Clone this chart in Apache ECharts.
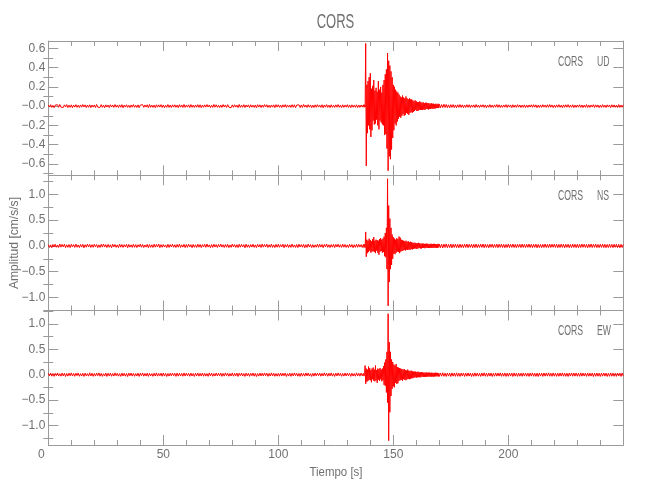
<!DOCTYPE html>
<html><head><meta charset="utf-8">
<script src="https://cdn.jsdelivr.net/npm/echarts@6/dist/echarts.min.js"></script>
<style>html,body{margin:0;padding:0;background:#fff}#c{width:650px;height:500px}</style>
</head><body><div id="c"></div>
<script>
const stationName = 'CORS';
const components = ['UD', 'NS', 'EW'];
const xTitle = 'Tiempo [s]';
const yTitle = 'Amplitud [cm/s/s]';
// sampling grid: [start, end, step] in seconds
const timeSegments = [[0, 137, 0.5], [137.25, 170, 0.25], [170.5, 250, 0.5]];
const xTicks = [0, 50, 100, 150, 200];
const xTickLabels = ['0', '50', '100', '150', '200'];
const udTicks = [-0.6, -0.4, -0.2, 0, 0.2, 0.4, 0.6];
const udTickLabels = ['−0.6', '−0.4', '−0.2', '−0.0', '0.2', '0.4', '0.6'];
const udMinorTicks = [-0.7, -0.5, -0.3, -0.1, 0.1, 0.3, 0.5];
const hTicks = [-1, -0.5, 0, 0.5, 1];
const hTickLabels = ['−1.0', '−0.5', '0.0', '0.5', '1.0'];
const hMinorTicks = [-1.25, -0.75, -0.25, 0.25, 0.75, 1.25];
const udRange = [-0.717, 0.675];
const nsRange = [-1.251, 1.367];
const ewRange = [-1.385, 1.264];

// accelerations in thousandths of cm/s/s
const udMilli = [
 12,-10,15,-13,8,-16,11,-9,14,-12,17,-11,9,-14,13,-8,16,-15,10,-12,13,-17,11,-10,15,
 -13,9,-14,12,-11,16,-9,13,-15,10,-12,14,-16,11,-10,12,-14,17,-11,9,-13,15,-12,10,-16,
 13,-10,11,-15,14,-9,12,-13,16,-11,10,-14,13,-12,15,-17,11,-10,14,-13,9,-15,12,-11,16,
 -12,10,-14,13,-16,11,-9,15,-13,12,-10,14,-15,17,-12,10,-13,11,-16,14,-11,13,-10,15,-14,
 12,-17,9,-12,16,-13,11,-15,13,-10,14,-12,10,-16,15,-11,12,-14,17,-13,11,-10,13,-15,16,
 -12,10,-14,12,-11,15,-13,14,-16,11,-12,13,-10,16,-9,12,-15,10,-13,17,-11,14,-12,9,-15,
 11,-13,16,-10,12,-14,15,-11,9,-16,13,-12,14,-10,11,-15,17,-13,10,-12,15,-14,12,-9,13,
 -16,14,-11,10,-13,12,-17,15,-10,13,-14,11,-12,16,-9,14,-13,10,-15,12,-11,13,-16,15,-10,
 14,-12,11,-15,13,-10,16,-14,12,-11,10,-13,15,-12,14,-16,11,-9,13,-15,12,-14,17,-10,11,
 -13,15,-11,12,-16,10,-14,13,-12,15,-10,11,-13,14,-17,12,-11,16,-13,10,-15,14,-12,9,-14,
 13,-11,16,-12,10,-15,14,-13,11,-10,15,-14,12,-16,13,-11,10,-12,14,-15,11,-13,12,-10,14,
 -12,14,-10,650,-620,220,-280,260,-200,300,
 -240,340,-320,180,-250,210,-150,270,-190,160,
 -180,190,-140,150,-200,260,-240,170,-150,200,
 -170,140,-190,220,-200,270,-300,330,-290,380,
 -440,550,-670,470,-520,420,-550,360,-450,300,
 -330,220,-250,200,-180,170,-200,150,-160,140,
 -130,120,-110,100,-120,90,-100,110,-80,90,
 -100,80,-90,100,-70,80,-80,70,-90,80,
 -70,70,-60,70,-70,60,-60,50,-50,60,
 -40,50,-50,40,-50,40,-40,50,-40,40,
 -40,35,-40,40,-35,30,-40,35,-30,35,
 -30,30,-35,30,-30,25,-30,30,-25,25,
 -30,25,-25,20,-25,25,-20,20,-20,25,
 -20,20,
 -18,16,-15,19,-14,17,-16,13,-18,15,-13,16,-15,12,-17,14,-12,16,-14,13,
 -15,11,-13,15,-12,14,-16,12,-11,13,-14,16,-12,11,-15,13,-10,14,-13,12,
 -16,10,-12,15,-13,11,-14,13,-11,16,-12,14,-15,10,-13,12,-11,15,-14,13,
 -10,12,-16,14,-12,11,-13,15,-11,12,-14,10,-12,13,-15,11,-13,12,-10,14,
 -12,15,-11,13,-16,10,-14,12,-13,15,-10,11,-13,14,-12,16,-11,12,-15,10,
 -14,13,-11,15,-12,10,-16,13,-12,14,-11,15,-13,10,-12,14,-15,11,-13,12,
 -11,14,-13,12,-15,10,-12,16,-14,11,-13,12,-10,15,-14,13,-11,12,-16,10,
 -13,15,-12,11,-14,13,-10,12,-15,14,-11,13,-12,10,-14,16,-13,11,-12,14
];

const nsMilli = [
 25,-30,20,-35,28,-22,33,-27,18,-31,36,-24,29,-19,32,-34,21,-28,26,-33,30,-20,24,-29,35,
 -26,19,-32,27,-23,31,-37,22,-25,34,-21,28,-30,23,-27,33,-18,26,-34,20,-29,30,-24,37,-22,
 24,-31,29,-26,21,-35,32,-20,27,-28,19,-33,35,-25,26,-30,23,-21,31,-36,28,-24,20,-29,33,
 -27,25,-32,22,-19,34,-26,27,-31,18,-23,30,-35,26,-28,21,-30,32,-24,29,-20,36,-33,24,-27,
 27,-22,19,-34,31,-29,25,-21,33,-26,22,-31,28,-25,35,-30,20,-24,30,-33,26,-28,32,-19,23,
 -35,29,-27,21,-30,33,-25,27,-32,24,-22,31,-28,36,-23,20,-34,26,-29,32,-21,25,-30,28,-19,
 34,-24,22,-31,27,-26,30,-33,19,-28,35,-21,26,-29,23,-32,31,-25,28,-20,24,-36,33,-27,21,
 -30,25,-23,32,-28,19,-34,29,-22,26,-31,36,-24,27,-20,33,-30,22,-26,35,-29,21,-32,28,-25,
 31,-27,24,-20,33,-35,26,-23,29,-31,22,-28,34,-25,19,-30,27,-33,32,-21,25,-26,30,-36,23,
 -29,35,-22,27,-32,24,-30,20,-26,33,-28,31,-23,25,-34,29,-19,36,-27,22,-31,26,-24,30,-33,
 28,-21,32,-26,23,-30,34,-25,27,-29,20,-32,31,-24,26,-35,22,-28,33,-27,29,-23,25,-31,30,
 -30,28,-32,270,-210,120,-140,100,-120,140,
 -90,110,-130,90,-110,130,-100,170,-120,100,
 -140,120,-90,110,-130,100,-170,130,-110,150,
 -100,120,-130,140,-120,180,-200,250,-220,350,
 -450,1300,-1160,780,-700,530,-450,350,-370,220,
 -250,170,-150,140,-160,120,-130,150,-110,130,
 -120,180,-140,160,-110,120,-100,110,-90,100,
 -80,90,-90,100,-70,80,-80,90,-70,70,
 -80,80,-60,70,-70,60,-60,60,-50,60,
 -50,50,-60,50,-50,60,-40,50,-50,40,
 -50,50,-40,45,-40,40,-45,40,-40,45,
 -35,40,-40,35,-40,40,-35,40,-40,35,
 -40,40,-35,40,-35,35,-40,35,-35,40,
 -30,35,
 -36,32,-40,34,-30,38,-35,29,-33,36,-38,31,-29,35,-34,30,-37,33,-31,28,
 -35,34,-30,36,-33,29,-28,32,-36,31,-32,35,-34,27,-30,33,-29,36,-35,30,
 -31,28,-36,32,-27,34,-33,30,-29,35,-34,31,-28,33,-32,29,-35,27,-30,34,
 -33,30,-29,36,-31,28,-34,32,-27,31,-32,35,-30,29,-33,31,-28,34,-31,30,
 -35,31,-28,33,-36,29,-32,27,-34,30,-29,36,-31,28,-33,35,-30,32,-27,34,
 -30,33,-35,28,-31,34,-29,32,-36,30,-28,31,-34,27,-32,35,-29,30,-33,31,
 -34,29,-31,35,-27,33,-30,28,-36,32,-29,34,-31,30,-28,35,-33,27,-32,30,
 -29,34,-32,30,-35,28,-31,33,-30,29,-34,31,-27,32,-33,30,-36,29,-31,28
];

const ewMilli = [
 28,-24,31,-29,22,-33,26,-20,34,-27,19,-30,32,-25,27,-35,23,-28,30,-21,35,-26,24,-32,29,
 -19,33,-31,20,-27,26,-34,30,-23,21,-29,36,-25,28,-32,23,-28,31,-20,34,-30,25,-33,19,-26,
 32,-35,27,-24,29,-31,22,-27,35,-21,26,-30,20,-33,31,-26,28,-29,24,-36,30,-22,33,-28,25,
 -31,21,-25,29,-34,27,-20,34,-30,23,-27,31,-33,26,-24,20,-32,28,-26,35,-29,24,-22,30,-31,
 33,-27,25,-35,22,-28,29,-24,31,-20,26,-33,32,-29,27,-25,23,-30,34,-27,29,-21,24,-31,30,
 -26,22,-34,28,-23,31,-29,25,-27,33,-30,26,-28,21,-32,35,-24,29,-31,20,-26,33,-25,28,-22,
 30,-33,24,-28,35,-21,27,-31,22,-26,34,-29,25,-23,32,-35,28,-20,31,-27,23,-34,29,-24,26,
 -32,27,-22,33,-30,25,-36,21,-28,31,-24,29,-26,34,-20,30,-33,23,-27,35,-25,28,-31,22,-29,
 24,-30,33,-26,28,-22,31,-35,20,-27,29,-32,26,-24,35,-21,27,-30,23,-33,32,-28,25,-29,34,
 -23,31,-27,20,-34,26,-29,32,-25,28,-21,33,-30,24,-26,36,-22,29,-31,27,-24,35,-28,21,-33,
 29,-25,34,-20,27,-31,23,-28,32,-26,30,-22,25,-33,28,-27,21,-30,35,-24,26,-29,31,-23,27,
 -28,24,180,-180,120,-140,100,-120,160,-100,
 130,-110,90,-150,120,-90,140,-120,100,-130,
 180,-110,90,-160,120,-100,110,-120,130,-90,
 100,-130,120,-110,170,-200,240,-220,300,-350,
 450,-550,1200,-1300,640,-740,450,-420,300,-280,
 250,-230,200,-250,180,-160,210,-180,150,-170,
 140,-120,130,-110,120,-100,110,-120,100,-90,
 110,-100,90,-110,80,-90,100,-80,80,-90,
 70,-80,80,-70,70,-70,60,-60,60,-50,
 60,-60,50,-50,60,-50,50,-50,45,-50,
 50,-40,45,-45,40,-45,40,-40,45,-40,
 40,-40,40,-35,40,-40,35,-40,40,-35,
 35,-40,35,-35,40,-35,35,-30,35,-35,
 30,-35,
 34,-30,37,-32,29,-35,33,-28,31,-36,35,-29,30,-33,36,-31,28,-34,32,-27,
 33,-35,29,-31,34,-28,30,-36,27,-32,35,-30,31,-29,28,-34,33,-27,36,-31,
 29,-33,32,-28,30,-35,27,-30,34,-29,31,-27,35,-32,28,-30,33,-34,29,-31,
 32,-28,30,-35,34,-29,27,-33,31,-30,28,-32,33,-27,30,-31,29,-34,32,-28,
 35,-31,28,-33,29,-36,32,-27,30,-34,33,-29,31,-28,36,-30,27,-32,34,-29,
 30,-34,27,-31,33,-28,35,-30,29,-32,28,-35,31,-27,34,-30,32,-29,33,-31,
 28,-32,35,-29,31,-27,30,-33,34,-30,29,-28,32,-36,27,-31,33,-30,28,-34,
 31,-29,33,-28,30,-35,27,-32,34,-30,29,-31,28,-33,32,-27,30,-34,31,-29
];

// build the time grid from the segment specs
const times = [];
timeSegments.forEach(([a, b, s]) => {
  const n = Math.round((b - a) / s);
  for (let i = 0; i <= n; i++) times.push(+(a + i * s).toFixed(3));
});
console.log('lengths', times.length, udMilli.length, nsMilli.length, ewMilli.length);

const FONT = "'Liberation Sans',Arial,sans-serif";
const TXT = '#707070';
const AX = '#9a9a9a';
const L = 48.3, R = 650 - 623.3;
const panelTop = [41, 175.3, 310.5];
const panelBottom = [175.3, 310.5, 445];
const panels = [
  {acc: udMilli, range: udRange, ticks: udTicks, labels: udTickLabels, minor: udMinorTicks},
  {acc: nsMilli, range: nsRange, ticks: hTicks, labels: hTickLabels, minor: hMinorTicks},
  {acc: ewMilli, range: ewRange, ticks: hTicks, labels: hTickLabels, minor: hMinorTicks}
];

const grids = [], xAxes = [], yAxes = [], series = [], graphics = [];
panels.forEach((p, k) => {
  grids.push({left: L, right: R, top: panelTop[k], height: panelBottom[k] - panelTop[k], show: false, containLabel: false});
  ['bottom', 'top'].forEach(pos => {
    const showLab = (k === 2 && pos === 'bottom');
    xAxes.push({
      type: 'value', gridIndex: k, position: pos, min: 0, max: 250, interval: 50,
      axisLine: {show: true, onZero: false, lineStyle: {color: AX, width: 1}},
      axisTick: {show: true, inside: true, length: 10, lineStyle: {color: AX, width: 1}},
      minorTick: {show: true, splitNumber: 5, length: 5, lineStyle: {color: AX, width: 1}},
      splitLine: {show: false}, minorSplitLine: {show: false},
      axisLabel: {
        show: showLab, showMaxLabel: false, margin: 4, color: TXT, fontFamily: FONT, fontSize: 12,
        formatter: v => {
          const i = xTicks.indexOf(v);
          if (i < 0) return '';
          return i === 0 ? '{z|' + xTickLabels[i] + '}' : xTickLabels[i];
        },
        rich: {z: {padding: [0, 14, 0, 0], color: TXT, fontFamily: FONT, fontSize: 12}}
      }
    });
  });
  ['left', 'right'].forEach(pos => {
    yAxes.push({
      type: 'value', gridIndex: k, position: pos, min: p.range[0], max: p.range[1],
      axisLine: {show: true, onZero: false, lineStyle: {color: AX, width: 1}},
      axisTick: {show: true, inside: true, length: 10, customValues: p.ticks, lineStyle: {color: AX, width: 1}},
      splitLine: {show: false},
      axisLabel: {
        show: pos === 'left', customValues: p.ticks, margin: 3, color: TXT, fontFamily: FONT, fontSize: 12,
        formatter: v => {
          let best = 0;
          p.ticks.forEach((t, i) => { if (Math.abs(t - v) < Math.abs(p.ticks[best] - v)) best = i; });
          return p.labels[best];
        }
      }
    });
    yAxes.push({
      type: 'value', gridIndex: k, position: pos, min: p.range[0], max: p.range[1],
      axisLine: {show: false},
      axisTick: {show: true, inside: true, length: 5, customValues: p.minor, lineStyle: {color: AX, width: 1}},
      splitLine: {show: false},
      axisLabel: {show: false}
    });
  });
  series.push({
    type: 'line', xAxisIndex: k * 2, yAxisIndex: k * 4,
    data: times.map((t, i) => [t, p.acc[i] / 1000]),
    showSymbol: false, symbol: 'none', sampling: null, animation: false, silent: true,
    lineStyle: {color: '#ff0000', width: 1}, itemStyle: {color: '#ff0000'}
  });
  graphics.push({type: 'text', x: 558, y: panelTop[k] + 21, scaleX: 0.62,
    style: {text: stationName, fill: TXT, font: '14px ' + FONT, align: 'left', verticalAlign: 'middle'}});
  graphics.push({type: 'text', x: 597, y: panelTop[k] + 21, scaleX: 0.62,
    style: {text: components[k], fill: TXT, font: '14px ' + FONT, align: 'left', verticalAlign: 'middle'}});
});

graphics.push({type: 'text', x: 335.5, y: 22, scaleX: 0.62, style: {text: stationName, fill: TXT, font: '21px ' + FONT, align: 'center', verticalAlign: 'middle'}});
graphics.push({type: 'text', x: 336, y: 472, scaleX: 0.88, style: {text: xTitle, fill: TXT, font: '13px ' + FONT, align: 'center', verticalAlign: 'middle'}});
graphics.push({type: 'text', x: 14, y: 243, rotation: Math.PI / 2, scaleX: 0.93, style: {text: yTitle, fill: TXT, font: '13px ' + FONT, align: 'center', verticalAlign: 'middle'}});

const chart = echarts.init(document.getElementById('c'), null, {renderer: 'canvas'});
chart.setOption({
  animation: false,
  backgroundColor: '#ffffff',
  grid: grids, xAxis: xAxes, yAxis: yAxes, series: series, graphic: graphics
});
</script></body></html>
